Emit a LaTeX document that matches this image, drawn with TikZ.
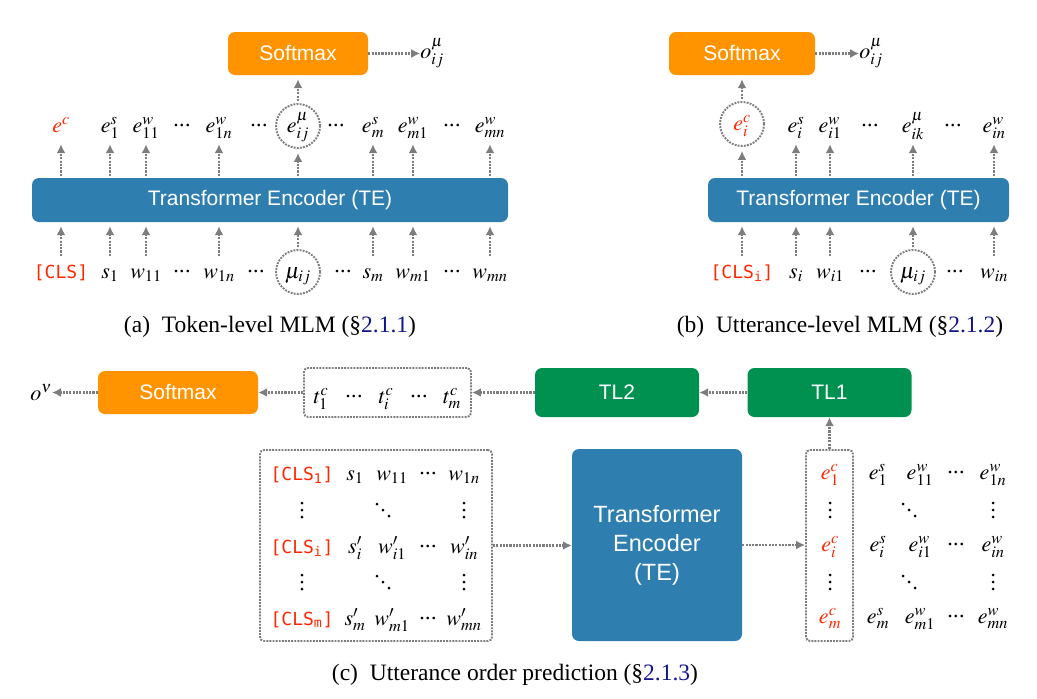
\documentclass[tikz,border=0pt]{standalone}
\usepackage{mathptmx}
\usepackage{fontspec}
\setmainfont{Liberation Serif}
\setsansfont{Liberation Sans}
\setmonofont{DejaVu Sans Mono}
\usepackage{tikz}
\usetikzlibrary{positioning,arrows.meta}
\definecolor{smorange}{RGB}{255,147,0}
\definecolor{teblue}{RGB}{47,126,176}
\definecolor{tlgreen}{RGB}{0,145,81}
\definecolor{clsred}{RGB}{255,38,0}
\definecolor{refblue}{RGB}{20,20,140}
\definecolor{arrgray}{RGB}{125,125,125}
\newcommand{\cdts}{\mathinner{\raise5.5pt\hbox{.\kern.3pt.\kern.3pt.}}}
\tikzset{
  arr/.style={-{Latex[length=9pt,width=9pt]}, draw=arrgray, line width=2.1pt, dash pattern=on 2.1pt off 1.2pt}, % dotted connector
  uparr/.style={arr, shorten <=2pt, shorten >=4pt},
  box/.style={rounded corners=7pt, text=white, inner sep=0pt, font=\sffamily\fontsize{21}{25}\selectfont},
  softbox/.style={box, fill=smorange, minimum height=43pt},
  tebox/.style={box, fill=teblue},
  tlbox/.style={box, fill=tlgreen, minimum width=164pt, minimum height=49pt},
  dotbox/.style={draw=arrgray, line width=1.9pt, dash pattern=on 1.9pt off 1.2pt, rounded corners=4pt},
  tok/.style={inner sep=0pt, anchor=base, text height=20pt, text depth=8pt, font=\fontsize{22}{26}\selectfont},
  clstok/.style={tok, text=clsred, font=\ttfamily\fontsize{18}{21}\selectfont},
  ring/.style={circle, draw=arrgray, line width=1.9pt, dash pattern=on 1.9pt off 1.2pt, minimum size=44pt},
  mtok/.style={inner sep=0pt, font=\fontsize{22}{26}\selectfont},
  capt/.style={anchor=base, inner sep=0pt, font=\fontsize{23.5}{28}\selectfont},
}
\begin{document}
\begin{tikzpicture}[x=1pt,y=-1pt]
\useasboundingbox (0,0) rectangle (1037,699);

% (a) token-level MLM
\node[softbox, minimum width=140pt] (sma) at (298,53.5) {Softmax};
\node[mtok, right=52pt of sma] (oa) {$o^{\mu}_{ij}$};
\node[tebox, minimum width=476pt, minimum height=44pt] (tea) at (270,200) {Transformer Encoder (TE)};
\node[tok, text=clsred] (ao0) at (61,132) {$e^{c}$};
\foreach \x/\n/\t in {110/1/e^{s}_{1}, 146/2/e^{w}_{11}, 219/3/e^{w}_{1n}, 373/4/e^{s}_{m}, 413/5/e^{w}_{m1}, 490/6/e^{w}_{mn}}
  \node[tok] (ao\n) at (\x,132) {$\t$};
\node[tok, ring] (aom) at (298,132) {$e^{\mu}_{ij}$};
\foreach \x/\n in {182/1,259/2,336/3,452/4}
  \node[tok] (aod\n) at (\x,132) {$\cdts$};
\node[clstok] (ai0) at (61,278) {[CLS]};
\foreach \x/\n/\t in {110/1/s_{1}, 146/2/w_{11}, 219/3/w_{1n}, 373/4/s_{m}, 413/5/w_{m1}, 490/6/w_{mn}}
  \node[tok] (ai\n) at (\x,278) {$\t$};
\node[tok, ring] (aim) at (298,278) {$\mu_{ij}$};
\foreach \x/\n in {182/1,256/2,343/3,452/4}
  \node[tok] (aid\n) at (\x,278) {$\cdts$};
\foreach \n in {0,...,6}{
  \draw[uparr] (ai\n) -- (ai\n |- tea.south);
  \draw[uparr] (ao\n |- tea.north) -- (ao\n);
}
\draw[uparr] (aim) -- (aim |- tea.south);
\draw[uparr] (aom |- tea.north) -- (aom);
\draw[uparr] (aom) -- (sma);
\draw[arr] (sma) -- (oa);
\node[capt] (capa) at (270,332) {(a)\hspace{0.5em}Token-level MLM (\S{\color{refblue}2.1.1})};

% (b) utterance-level MLM
\node[softbox, minimum width=146pt] (smb) at (742,53.5) {Softmax};
\node[mtok, right=44pt of smb] (ob) {$o^{\mu}_{ij}$};
\node[tebox, minimum width=301pt, minimum height=44pt] (teb) at (858.5,200) {Transformer Encoder (TE)};
\node[tok, ring, text=clsred] (bom) at (742,130) {$e^{c}_{i}$};
\foreach \x/\n/\t in {796/1/e^{s}_{i}, 830/2/e^{w}_{i1}, 913/3/e^{\mu}_{ik}, 994/4/e^{w}_{in}}
  \node[tok] (bo\n) at (\x,132) {$\t$};
\foreach \x/\n in {870/1,953/2}
  \node[tok] (bod\n) at (\x,132) {$\cdts$};
\node[clstok] (bi0) at (742,278) {[CLS\textsubscript{i}]};
\foreach \x/\n/\t in {796/1/s_{i}, 830/2/w_{i1}, 994/4/w_{in}}
  \node[tok] (bi\n) at (\x,278) {$\t$};
\node[tok, ring] (bi3) at (913,278) {$\mu_{ij}$};
\foreach \x/\n in {868/1,955/2}
  \node[tok] (bid\n) at (\x,278) {$\cdts$};
\foreach \n in {0,...,4}
  \draw[uparr] (bi\n) -- (bi\n |- teb.south);
\foreach \n in {1,...,4}
  \draw[uparr] (bo\n |- teb.north) -- (bo\n);
\draw[uparr] (bom |- teb.north) -- (bom);
\draw[uparr] (bom) -- (smb);
\draw[arr] (smb) -- (ob);
\node[capt] (capb) at (840,332) {(b)\hspace{0.5em}Utterance-level MLM (\S{\color{refblue}2.1.2})};

% (c) utterance order prediction
\node[softbox, minimum width=160pt] (smc) at (178,392.5) {Softmax};
\node[mtok, anchor=base east] (oc) at (52,400) {$o^{\nu}$};
\node[dotbox, minimum width=167pt, minimum height=49pt] (tbox) at (387.5,392.5) {};
\foreach \x/\n/\t in {321/1/t^{c}_{1}, 354/2/\cdts, 386/3/t^{c}_{i}, 419/4/\cdts, 452/5/t^{c}_{m}}
  \node[tok] (tc\n) at (\x,403) {$\t$};
\node[tlbox] (tl2) at (617,392.5) {TL2};
\node[tlbox] (tl1) at (829.5,392.5) {TL1};
\draw[arr] (tl1) -- (tl2);
\draw[arr] (tl2) -- (tbox);
\draw[arr] (tbox) -- (smc);
\draw[arr] (smc.west) -- (smc.west -| oc.east);

\node[tebox, minimum width=170pt, minimum height=192pt, align=center, font=\sffamily\fontsize{23.5}{29}\selectfont] (tec) at (657,545) {Transformer\\Encoder\\(TE)};

\node[dotbox, minimum width=232pt, minimum height=191pt] (inbox) at (376,545.5) {};
\foreach \y/\r/\a/\b/\c in {480/1/s_{1}/w_{11}/w_{1n}, 553/i/s'_{i}/w'_{i1}/w'_{in}, 625/m/s'_{m}/w'_{m1}/w'_{mn}}{
  \node[clstok] (cls\r) at (302,\y) {[CLS\textsubscript{\r}]};
  \node[tok] (s\r) at (355,\y) {$\a$};
  \node[tok] (w\r) at (392,\y) {$\b$};
  \node[tok] (d\r) at (428,\y) {$\cdts$};
  \node[tok] (wn\r) at (464,\y) {$\c$};
}

\node[dotbox, minimum width=47pt, minimum height=191pt] (ebox) at (829.5,545.5) {};
\foreach \y/\r in {479/1,551/i,623/m}{
  \node[tok, text=clsred] (ec\r) at (830,\y) {$e^{c}_{\r}$};
  \node[tok] (es\r) at (878,\y) {$e^{s}_{\r}$};
  \node[tok] (ew\r) at (920,\y) {$e^{w}_{\r 1}$};
  \node[tok] (ed\r) at (956,\y) {$\cdts$};
  \node[tok] (ewn\r) at (993,\y) {$e^{w}_{\r n}$};
}
% vertical and diagonal dots
\foreach \x/\y in {302/510,464/510,302/582,464/582,830/510,993/510,830/582,993/582}
  \foreach \d in {-7,0,7}
    \fill (\x,\y+\d) circle (1.5pt);
\foreach \x/\y in {383/510,383/582,909/510,909/582}
  \foreach \d in {-6,0,6}
    \fill (\x+\d,\y+\d) circle (1.5pt);

\draw[arr] (inbox.east) -- (inbox.east -| tec.west);
\draw[arr] (tec.east) -- (tec.east -| ebox.west);
\draw[arr] (ebox) -- (tl1);
\node[capt] (capc) at (515,680) {(c)\hspace{0.5em}Utterance order prediction (\S{\color{refblue}2.1.3})};
\end{tikzpicture}
\end{document}
